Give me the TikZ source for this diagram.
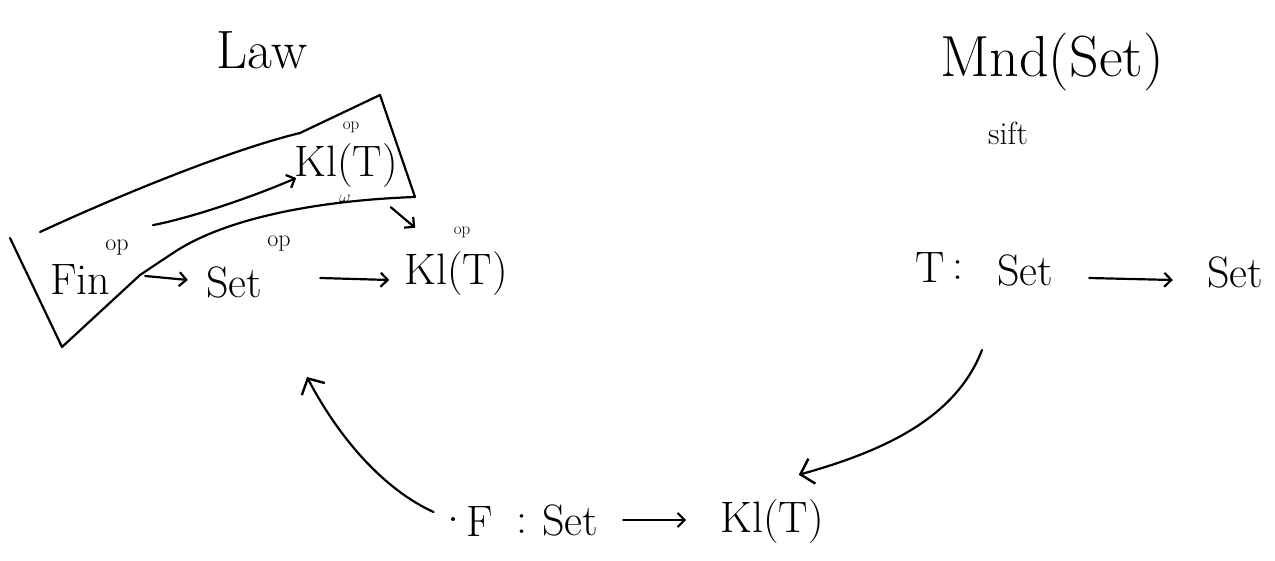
\documentclass[tikz,border=0pt]{standalone}
\usepackage{fontspec}
\usetikzlibrary{arrows.meta,calc}
\begin{document}
\begin{tikzpicture}[x=1pt,y=-1pt,
  ink/.style={line width=2.2pt, line cap=round, line join=round},
  lbl/.style={inner sep=0pt, font=\fontsize{44}{48}\selectfont},
  big/.style={inner sep=0pt, font=\fontsize{54}{60}\selectfont},
  small/.style={inner sep=0pt, font=\fontsize{24}{28}\selectfont},
  tiny/.style={inner sep=0pt, font=\fontsize{17}{20}\selectfont},
  arr/.style={ink, -{Straight Barb[length=7pt,width=14pt,line width=2.2pt]}},
  bigarr/.style={ink, -{Straight Barb[length=12pt,width=26pt,line width=2.4pt]}}]
\useasboundingbox (0,0) rectangle (1275,561);
\fill[white] (0,0) rectangle (1275,561);

% titles
\node[big] (law) at (262,50) {Law};
\node[inner sep=0pt, font=\fontsize{58}{64}\selectfont] (mnd) at (1052,62) {Mnd(Set)};
\node[inner sep=0pt, font=\fontsize{32}{36}\selectfont] (sift) at (1008,133) {sift};

% right row: T : Set -> Set
\node[lbl] (tT) at (930,268) {T};
\node[lbl] (tc) at (958,270) {:};
\node[lbl] (tset1) at (1025,270) {Set};
\node[lbl] (tset2) at (1235,272) {Set};
\draw[arr] ($(tset1.east)+(36,8)$) -- ($(tset2.west)+(-34,8)$);

% bottom row: F : Set -> Kl(T)
\node[lbl] (fF) at (480,522) {F};
\node[lbl] (fc) at (522,524) {:};
\node[lbl] (fset) at (570,520) {Set};
\node[lbl] (fkl) at (772,522) {Kl(T)};
\draw[arr] ($(fset.east)+(25,0)$) -- ($(fkl.west)+(-34,-2)$);
\fill (453,519) circle (2pt);

% boxed part
\draw[ink] (40,232) .. controls (120,195) and (230,150) .. (300,133) -- (380,95)
  -- (415,197) .. controls (330,200) and (230,215) .. (173,253) -- (140,275)
  -- (62,347) -- (10,238);

\node[lbl] (fin) at (80,280) {Fin};
\node[small] (finop) at (117,248) {op};
\node[lbl] (setL) at (234,282) {Set};
\node[small] (setop) at (279,244) {op};
\node[lbl] (klL) at (456,274) {Kl(T)};
\node[tiny] (klLop) at (462,232) {op};
\node[lbl] (klU) at (346,166) {Kl(T)};
\node[tiny] (klUop) at (351,127) {op};
\node[tiny] (klUw) at (345,199) {$\omega$};

\draw[arr] ($(fin.east)+(35,-4)$) -- ($(setL.west)+(-18,-2)$);
\draw[arr] ($(setL.east)+(58,-4)$) -- ($(klL.west)+(-15,6)$);
\draw[arr] ($(finop.north east)+(24,-15)$) .. controls (190,218) and (250,198) .. ($(klU.west)+(2,12)$);
\draw[arr] ($(klU.south east)+(-7,19)$) -- ($(klL.north west)+(11,-24)$);

% big connecting arrows
\coordinate (r0) at (982,350);
\draw[bigarr] (r0) .. controls (955,420) and (880,452) .. ($(fkl.north east)+(-25,-25)$);
\coordinate (l1) at (307,377);
\draw[bigarr] ($(fF.west)+(-33,-10)$) .. controls (385,490) and (340,440) .. (l1);
\end{tikzpicture}
\end{document}
